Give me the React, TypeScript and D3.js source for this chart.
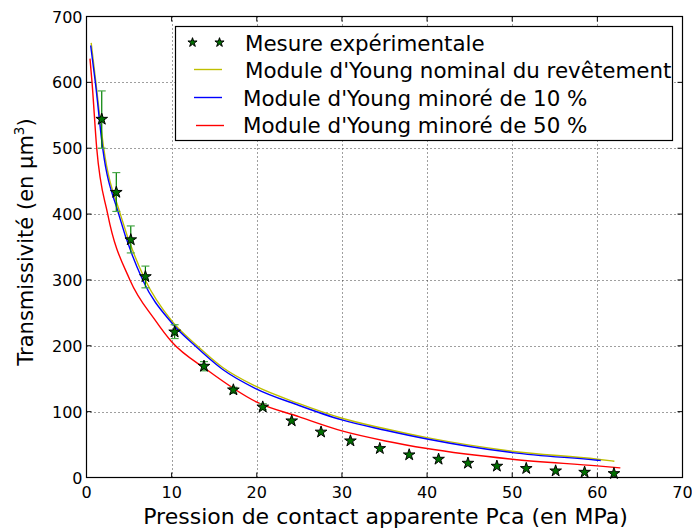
import React from 'react';
import * as d3 from 'd3';

// Mesures (pression en MPa, transmissivité en µm³)
const mesureP = [1.79, 3.5, 5.2, 6.92, 10.35, 13.8, 17.25, 20.7, 24.1, 27.55, 31.0, 34.45, 37.9, 41.35, 44.8, 48.2, 51.65, 55.1, 58.5, 61.95];
const mesureT = [544, 433, 361, 305, 221, 169, 133, 107, 86, 69, 55.6, 44, 34.4, 27.8, 21.7, 17.2, 13.7, 10, 8, 6];
const errBas = [500, 404, 341, 288, 211, 162, 128, 103];
const errHaut = [587, 463, 382, 321, 232, 176, 137, 112];

// Courbes du modèle
const nominalP = [0.55, 1.1, 2.02, 3.97, 6.9, 10, 13, 16, 19.8, 24.9, 30, 35.1, 40, 50, 60, 62];
const nominalT = [660, 600, 500, 400, 300, 238, 200, 167, 139, 112.5, 90, 74, 60.5, 39.9, 27.8, 24.7];
const minore10P = [0.49, 1.04, 1.9, 3.78, 6.6, 10, 12.75, 16, 19.8, 24.9, 30, 35.1, 40, 50, 60, 60.4];
const minore10T = [656, 600, 500, 400, 300, 235, 200, 164, 135.5, 109.7, 87.4, 71.8, 58.5, 37.8, 26.3, 25.8];
const minore50P = [0.41, 0.65, 1.2, 2.49, 5.1, 8, 10, 14.1, 20, 25, 30, 35.1, 40, 50, 60, 62.7];
const minore50T = [636, 600, 500, 400, 300, 240, 206, 164, 114.5, 92, 70.7, 55.5, 44, 27.8, 17.6, 14.6];

const xTicks = [0, 10, 20, 30, 40, 50, 60, 70];
const yTicks = [0, 100, 200, 300, 400, 500, 600, 700];

const legendLabels = [
  'Mesure expérimentale',
  "Module d'Young nominal du revêtement",
  "Module d'Young minoré de 10 %",
  "Module d'Young minoré de 50 %",
];

const W = 692;
const H = 530;
const margin = { left: 86.5, right: 9.5, top: 16.5, bottom: 52.5 };
const font = 'DejaVu Sans, sans-serif';

export default function App() {
  const x = d3.scaleLinear().domain([0, 70]).range([margin.left, W - margin.right]);
  const y = d3.scaleLinear().domain([0, 700]).range([H - margin.bottom, margin.top]);
  const line = d3.line<[number, number]>()
    .x(d => x(d[0]))
    .y(d => y(d[1]))
    .curve(d3.curveMonotoneX);

  const zip = (a: number[], b: number[]) => a.map((v, i) => [v, b[i]] as [number, number]);
  const courbes = [
    { pts: zip(nominalP, nominalT), color: '#bfbf00' },
    { pts: zip(minore10P, minore10T), color: '#0000ff' },
    { pts: zip(minore50P, minore50T), color: '#ff0000' },
  ];

  const star = d3.symbol(d3.symbolStar, 42)() as string;
  const smallStar = d3.symbol(d3.symbolStar, 26)() as string;
  const x0 = x.range()[0], x1 = x.range()[1];
  const y0 = y.range()[0], y1 = y.range()[1];

  return (
    <svg width={W} height={H} style={{ position: 'absolute', left: 0, top: 0, background: '#fff' }}
      fontFamily={font}>
      <rect width={W} height={H} fill="#fff" />

      {/* grille */}
      <g stroke="#000" strokeWidth={1} strokeDasharray="1,3" opacity={0.75}>
        {xTicks.slice(1, -1).map(t => (
          <line key={'gx' + t} x1={Math.round(x(t)) + 0.5} x2={Math.round(x(t)) + 0.5} y1={y1} y2={y0} />
        ))}
        {yTicks.slice(1, -1).map(t => (
          <line key={'gy' + t} x1={x0} x2={x1} y1={Math.round(y(t)) + 0.5} y2={Math.round(y(t)) + 0.5} />
        ))}
      </g>

      {/* courbes */}
      {courbes.map((c, i) => (
        <path key={i} d={line(c.pts) || ''} fill="none" stroke={c.color} strokeWidth={1.4} />
      ))}

      {/* barres d'erreur */}
      {errBas.map((b, i) => (
        <g key={'e' + i}>
          <line x1={x(mesureP[i])} x2={x(mesureP[i])} y1={y(b)} y2={y(errHaut[i])} stroke="#008000" strokeWidth={1.2} />
          <line x1={x(mesureP[i]) - 4} x2={x(mesureP[i]) + 4} y1={y(b)} y2={y(b)} stroke="#4aa84a" strokeWidth={1.2} />
          <line x1={x(mesureP[i]) - 4} x2={x(mesureP[i]) + 4} y1={y(errHaut[i])} y2={y(errHaut[i])} stroke="#4aa84a" strokeWidth={1.2} />
        </g>
      ))}

      {/* mesures */}
      {mesureP.map((p, i) => (
        <path key={'m' + i} d={star} transform={`translate(${x(p)},${y(mesureT[i])})`}
          fill="#007000" stroke="#000" strokeWidth={1} />
      ))}

      {/* cadre */}
      <rect x={x0} y={y1} width={x1 - x0} height={y0 - y1} fill="none" stroke="#000" strokeWidth={1.2} />

      {/* graduations */}
      <g stroke="#000" strokeWidth={1}>
        {xTicks.map(t => (
          <g key={'tx' + t}>
            <line x1={x(t)} x2={x(t)} y1={y0} y2={y0 - 5} />
            <line x1={x(t)} x2={x(t)} y1={y1} y2={y1 + 5} />
          </g>
        ))}
        {yTicks.map(t => (
          <g key={'ty' + t}>
            <line x1={x0} x2={x0 + 5} y1={y(t)} y2={y(t)} />
            <line x1={x1} x2={x1 - 5} y1={y(t)} y2={y(t)} />
          </g>
        ))}
      </g>
      <g fontSize={16} fill="#000">
        {xTicks.map(t => (
          <text key={'lx' + t} x={x(t)} y={y0 + 20} textAnchor="middle">{t}</text>
        ))}
        {yTicks.map(t => (
          <text key={'ly' + t} x={x0 - 4} y={y(t) + 6} textAnchor="end">{t}</text>
        ))}
      </g>

      {/* titres des axes */}
      <text x={(x0 + x1) / 2 + 1} y={H - 6} textAnchor="middle" fontSize={22}>
        Pression de contact apparente Pca (en MPa)
      </text>
      <text transform={`translate(33,${(y0 + y1) / 2 - 5}) rotate(-90)`} textAnchor="middle" fontSize={21}>
        Transmissivité (en µm<tspan dy={-9} fontSize={13.5}>3</tspan><tspan dy={9}>)</tspan>
      </text>

      {/* légende */}
      <g>
        <rect x={175.5} y={26.5} width={497} height={114} fill="#fff" stroke="#000" strokeWidth={1.2} />
        <path d={smallStar} transform="translate(192.5,42.5)" fill="#007000" stroke="#000" strokeWidth={1} />
        <path d={smallStar} transform="translate(219.5,42.5)" fill="#007000" stroke="#000" strokeWidth={1} />
        {courbes.map((c, i) => (
          <line key={'ll' + i} x1={194 + (i === 2 ? 2 : 0)} x2={222 + (i === 2 ? 2 : 0)} y1={69.5 + i * 28} y2={69.5 + i * 28}
            stroke={c.color} strokeWidth={1.4} />
        ))}
        {legendLabels.map((l, i) => (
          <text key={'lt' + i} x={i < 2 ? 245 : 243} y={50.5 + i * 27.5} fontSize={21.4}>{l}</text>
        ))}
      </g>
    </svg>
  );
}
